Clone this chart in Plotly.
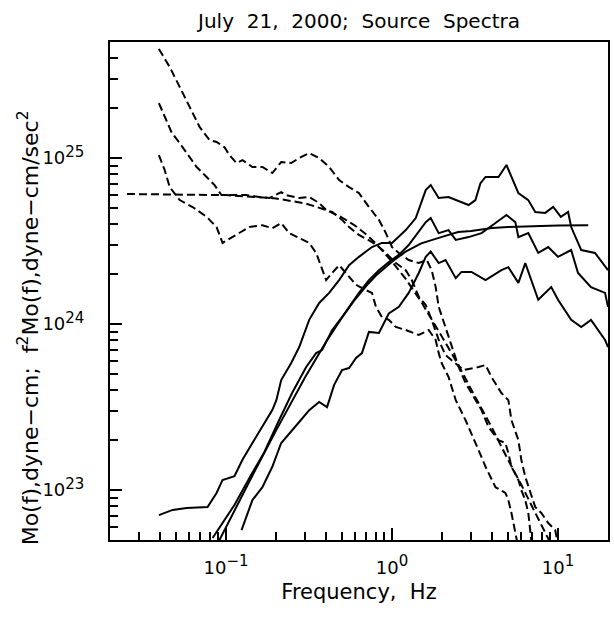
import plotly.graph_objects as go

# ---------------- data ----------------
# Displacement source spectra Mo(f) (dashed), three stations
d1_f = [0.0394, 0.0458, 0.0526, 0.0604, 0.0693, 0.0796, 0.0877, 0.0979, 0.105, 0.1156,
        0.1256, 0.1442, 0.1656, 0.190, 0.215, 0.247, 0.276, 0.317, 0.364, 0.418,
        0.480, 0.551, 0.632, 0.726, 0.834, 0.918, 1.0, 1.099, 1.26, 1.449,
        1.618, 1.734, 1.832, 1.91, 2.10, 2.29, 2.52, 2.77, 3.01, 3.46,
        3.81, 4.38, 4.82, 5.02, 5.24, 5.77, 6.01, 6.35, 6.62, 6.90, 7.2]
d1_m = [4.54e25, 3.53e25, 2.68e25, 2.03e25, 1.54e25, 1.28e25, 1.25e25, 1.16e25, 1.04e25, 9.33e24,
        9.72e24, 8.83e24, 8.83e24, 8.12e24, 9.46e24, 9.33e24, 1.0e25, 1.07e25, 1.0e25, 8.83e24,
        7.36e24, 6.68e24, 6.15e24, 5.07e24, 4.24e24, 3.53e24, 2.91e24, 2.68e24, 2.43e24, 2.33e24,
        2.43e24, 2.11e24, 1.67e24, 1.27e24, 9.6e23, 7.27e23, 5.51e23, 4.42e23, 3.84e23, 3.03e23,
        2.40e23, 2.0e23, 1.92e23, 1.67e23, 1.38e23, 1.15e23, 1.0e23, 8.7e22, 7.27e22, 5.0e22, 4.0e22]

d2_f = [0.0394, 0.0427, 0.0471, 0.0526, 0.0579, 0.0665, 0.0764, 0.0853, 0.0939, 0.109,
        0.1327, 0.159, 0.1824, 0.215, 0.2307, 0.276, 0.317, 0.364, 0.401, 0.436,
        0.500, 0.551, 0.632, 0.757, 0.834, 0.918, 1.054, 1.21, 1.315, 1.449,
        1.596, 1.734, 1.91, 2.10, 2.35, 2.70, 3.32, 3.66, 3.97, 4.56,
        5.02, 5.24, 5.77, 6.01, 6.35, 6.81, 7.29, 7.93, 8.73, 9.62, 9.89, 10.3]
d2_m = [2.14e25, 1.77e25, 1.42e25, 1.23e25, 1.07e25, 8.83e24, 7.69e24, 6.87e24, 5.98e24, 5.98e24,
        5.98e24, 5.82e24, 5.74e24, 6.24e24, 5.98e24, 5.74e24, 5.82e24, 5.36e24, 4.86e24, 4.73e24,
        4.24e24, 3.84e24, 3.44e24, 3.12e24, 2.91e24, 2.68e24, 2.33e24, 2.11e24, 1.84e24, 1.46e24,
        1.30e24, 1.06e24, 8.02e23, 6.50e23, 5.90e23, 5.28e23, 5.51e23, 5.66e23, 4.80e23, 3.84e23,
        3.48e23, 2.64e23, 2.0e23, 1.52e23, 1.20e23, 9.6e22, 7.9e22, 7.27e22, 6.33e22, 5.74e22, 5.0e22, 4.0e22]

d3_f = [0.0394, 0.0427, 0.0458, 0.0526, 0.0629, 0.0764, 0.0877, 0.0953, 0.109, 0.1383,
        0.1656, 0.190, 0.215, 0.2404, 0.276, 0.317, 0.349, 0.379, 0.401, 0.436,
        0.480, 0.528, 0.607, 0.697, 0.757, 0.800, 0.869, 0.957, 1.054, 1.21,
        1.449, 1.663, 1.832, 1.91, 1.99, 2.19, 2.42, 2.77, 3.01, 3.32,
        3.66, 4.20, 4.82, 5.02, 5.24, 5.61, 5.9]
d3_m = [1.04e25, 8.47e24, 6.68e24, 5.58e24, 5.07e24, 4.42e24, 3.84e24, 3.08e24, 3.34e24, 3.84e24,
        3.94e24, 3.78e24, 4.06e24, 3.53e24, 3.30e24, 3.08e24, 2.68e24, 2.11e24, 1.84e24, 2.03e24,
        2.26e24, 2.03e24, 1.72e24, 1.60e24, 1.54e24, 1.27e24, 1.10e24, 1.06e24, 9.6e23, 9.2e23,
        8.59e23, 9.2e23, 8.02e23, 6.68e23, 5.82e23, 4.80e23, 3.48e23, 2.64e23, 2.20e23, 1.74e23,
        1.38e23, 1.04e23, 9.6e22, 8.7e22, 7.27e22, 5.0e22, 4.0e22]

# Model displacement spectrum (dashed, smooth)
dm_f = [0.0253, 0.05, 0.1, 0.2, 0.3, 0.4, 0.5, 0.6, 0.7, 0.8, 1.0, 1.2, 1.5,
        2.0, 2.5, 3.0, 3.5, 4.0, 5.0, 6.0, 7.0, 8.0, 9.0]
dm_m = [6.07e24, 6.05e24, 5.98e24, 5.71e24, 5.33e24, 4.87e24, 4.38e24, 3.91e24, 3.46e24, 3.06e24,
        2.37e24, 1.89e24, 1.36e24, 8.37e23, 5.72e23, 4.03e23, 3.06e23, 2.37e23, 1.52e23, 1.08e23,
        7.9e22, 6.1e22, 4.8e22]

# Acceleration source spectra f^2 Mo(f) (solid), three stations
s1_f = [0.0394, 0.0477, 0.0579, 0.0774, 0.0877, 0.0953, 0.1124, 0.1256, 0.1442, 0.1656,
        0.190, 0.201, 0.215, 0.247, 0.276, 0.317, 0.364, 0.418, 0.480, 0.551,
        0.632, 0.757, 0.869, 1.0, 1.21, 1.39, 1.49, 1.596, 1.71, 1.91,
        2.19, 2.42, 2.62, 2.89, 3.18, 3.41, 3.66, 4.38, 4.89, 5.77,
        6.62, 7.29, 8.37, 9.35, 10.4, 11.5, 12.0, 13.8, 16.7, 19.2, 20.0]
s1_a = [7.06e22, 7.59e22, 7.80e22, 7.9e22, 9.6e22, 1.15e23, 1.21e23, 1.52e23, 1.92e23, 2.40e23,
        3.03e23, 3.48e23, 4.60e23, 5.82e23, 7.27e23, 1.06e24, 1.34e24, 1.54e24, 1.84e24, 2.26e24,
        2.54e24, 2.91e24, 3.08e24, 3.08e24, 3.68e24, 4.35e24, 5.36e24, 6.41e24, 6.87e24, 5.74e24,
        5.82e24, 5.58e24, 5.43e24, 5.21e24, 5.58e24, 7.06e24, 7.69e24, 7.69e24, 9.08e24, 6.15e24,
        5.58e24, 4.73e24, 4.67e24, 5.07e24, 4.42e24, 4.73e24, 3.84e24, 2.79e24, 2.68e24, 2.20e24, 2.11e24]

s2_f = [0.083, 0.1124, 0.1383, 0.170, 0.209, 0.250, 0.304, 0.349, 0.379, 0.436,
        0.500, 0.574, 0.632, 0.726, 0.834, 0.957, 1.099, 1.26, 1.449, 1.596,
        1.71, 1.91, 2.19, 2.42, 2.89, 3.46, 4.20, 4.89, 5.53, 5.77,
        6.62, 7.60, 8.73, 10.0, 12.0, 13.2, 15.8, 19.2, 20.0]
s2_a = [5.14e22, 8.13e22, 1.18e23, 1.69e23, 2.64e23, 3.84e23, 5.51e23, 6.68e23, 6.97e23, 9.2e23,
        1.10e24, 1.34e24, 1.54e24, 1.84e24, 2.11e24, 2.36e24, 2.61e24, 2.99e24, 3.58e24, 4.11e24,
        4.35e24, 3.53e24, 3.68e24, 3.21e24, 3.34e24, 3.53e24, 4.06e24, 4.54e24, 4.11e24, 3.34e24,
        3.53e24, 2.68e24, 2.91e24, 2.54e24, 2.79e24, 2.03e24, 1.67e24, 1.54e24, 1.27e24]

s3_f = [0.124, 0.1442, 0.1656, 0.190, 0.215, 0.2404, 0.276, 0.317, 0.364, 0.406,
        0.448, 0.500, 0.551, 0.607, 0.659, 0.726, 0.834, 0.957, 1.099, 1.26,
        1.449, 1.596, 1.71, 1.91, 2.10, 2.42, 2.62, 3.01, 3.66, 4.56,
        5.02, 5.77, 6.35, 7.60, 9.10, 10.0, 12.0, 13.8, 15.8, 19.2, 20.0]
s3_a = [5.74e22, 8.7e22, 1.04e23, 1.38e23, 1.92e23, 2.20e23, 2.57e23, 3.03e23, 3.39e23, 3.16e23,
        4.30e23, 5.28e23, 5.43e23, 6.24e23, 6.68e23, 8.96e23, 8.83e23, 1.16e24, 1.27e24, 1.54e24,
        2.03e24, 2.54e24, 2.73e24, 2.33e24, 2.43e24, 1.89e24, 2.06e24, 2.06e24, 1.84e24, 2.11e24,
        2.20e24, 1.77e24, 2.33e24, 1.40e24, 1.67e24, 1.40e24, 1.06e24, 9.6e23, 1.06e24, 8.02e23, 7.27e23]

# Model acceleration spectrum (solid, smooth)
sm_f = [0.09, 0.1, 0.15, 0.2, 0.3, 0.4, 0.5, 0.6, 0.7, 0.8, 1.0, 1.2, 1.5,
        2.0, 2.5, 3.0, 4.0, 5.0, 7.0, 10.0, 15.2]
sm_a = [4.86e22, 5.98e22, 1.32e23, 2.28e23, 4.80e23, 7.8e23, 1.095e24, 1.41e24, 1.70e24, 1.96e24,
        2.37e24, 2.72e24, 3.06e24, 3.35e24, 3.58e24, 3.63e24, 3.79e24, 3.84e24, 3.89e24, 3.92e24, 3.93e24]

SUP = "<sup><span style='font-size:15px'>{}</span></sup>"
x_tickvals = [0.1, 1, 10]
x_ticktext = ["10" + SUP.format("\u22121"), "10" + SUP.format("0"), "10" + SUP.format("1")]
y_tickvals = [1e23, 1e24, 1e25]
y_ticktext = ["10" + SUP.format("23"), "10" + SUP.format("24"), "10" + SUP.format("25")]

title_text = "July  21,  2000;  Source  Spectra"
x_title = "Frequency,  Hz"
y_title = "Mo(f),dyne\u2212cm;  f<sup>2</sup>Mo(f),dyne\u2212cm/sec<sup>2</sup>"

# ---------------- figure ----------------
fig = go.Figure()
dash_style = dict(color="black", width=2, dash="8px,4px")
solid_style = dict(color="black", width=2)

for fx, fy in [(d1_f, d1_m), (d2_f, d2_m), (d3_f, d3_m), (dm_f, dm_m)]:
    fig.add_trace(go.Scatter(x=fx, y=fy, mode="lines", line=dash_style, hoverinfo="skip"))
for fx, fy in [(s1_f, s1_a), (s2_f, s2_a), (s3_f, s3_a), (sm_f, sm_a)]:
    fig.add_trace(go.Scatter(x=fx, y=fy, mode="lines", line=solid_style, hoverinfo="skip"))

x_minor = [m * 10.0 ** e for e in (-2, -1, 0, 1) for m in range(2, 10)]
y_minor = [m * 10.0 ** e for e in (22, 23, 24, 25) for m in range(2, 10)]

FONT = "DejaVu Sans, Liberation Sans, Arial, sans-serif"

axis_common = dict(
    type="log", showgrid=False, zeroline=False,
    showline=True, linecolor="black", linewidth=2, mirror=True,
    ticks="inside", ticklen=12, tickwidth=2, tickcolor="black",
    tickfont=dict(family=FONT, size=18, color="black"),
)

fig.update_xaxes(
    **axis_common,
    range=[-1.69897, 1.30103],
    tickmode="array", tickvals=x_tickvals, ticktext=x_ticktext,
    minor=dict(tickmode="array", tickvals=x_minor, ticks="inside", ticklen=8,
               tickwidth=2, tickcolor="black", showgrid=False),
    ticklabelstandoff=10,
    title=dict(text=x_title, font=dict(family=FONT, size=21, color="black"), standoff=8),
)
fig.update_yaxes(
    **axis_common,
    range=[22.69897, 25.69897],
    tickmode="array", tickvals=y_tickvals, ticktext=y_ticktext,
    minor=dict(tickmode="array", tickvals=y_minor, ticks="inside", ticklen=8,
               tickwidth=2, tickcolor="black", showgrid=False),
    ticklabelstandoff=20,
)

fig.add_annotation(
    text=y_title, textangle=-90, showarrow=False,
    xref="paper", yref="paper", x=-0.164, y=0.4257,
    xanchor="center", yanchor="middle",
    font=dict(family=FONT, size=22, color="black"),
)

fig.update_layout(
    width=614, height=617,
    margin=dict(l=110, r=4, t=42, b=77),
    plot_bgcolor="white", paper_bgcolor="white",
    showlegend=False,
    font=dict(family=FONT, size=18, color="black"),
    title=dict(text=title_text, x=0.5, xref="paper", xanchor="center",
               y=0.966, yanchor="middle", font=dict(family=FONT, size=20, color="black")),
)

fig.write_html("out.html")
